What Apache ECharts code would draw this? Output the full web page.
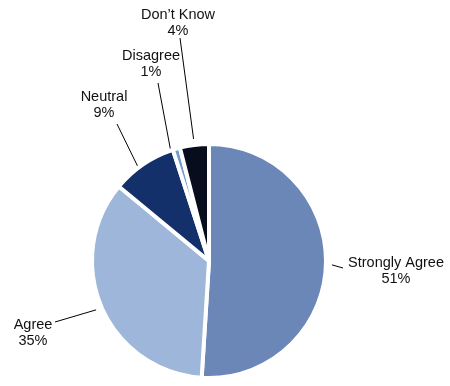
<!DOCTYPE html>
<html>
<head>
<meta charset="utf-8">
<script src="https://cdn.jsdelivr.net/npm/echarts@6/dist/echarts.min.js"></script>
<style>
html,body{margin:0;padding:0;background:#fff;}
#chart{width:450px;height:386px;}
</style>
</head>
<body>
<div id="chart"></div>
<script>
// Data
const categories = ["Strongly Agree", "Agree", "Neutral", "Disagree", "Don\u2019t Know"];
const values = [51, 35, 9, 1, 4];

// Styles (not data)
const colors = ["#6a87b8", "#9db6d9", "#13306a", "#6f9ad2", "#070d1c"];
// label block centres and leader-line end points (placement only)
const labelPlace = [
  { x: 396, y: 271, end: [343, 268] },
  { x: 33,  y: 333, end: [55, 322] },
  { x: 104, y: 105, end: [117, 124] },
  { x: 151, y: 64,  end: [158, 83] },
  { x: 178, y: 23,  end: [180, 38] }
];

const chart = echarts.init(document.getElementById('chart'), null, { renderer: 'canvas' });
chart.setOption({
  animation: false,
  backgroundColor: '#ffffff',
  series: [{
    type: 'pie',
    center: [209, 261],
    radius: 117,
    startAngle: 90,
    clockwise: true,
    data: categories.map((c, i) => ({ name: c, value: values[i], itemStyle: { color: colors[i] } })),
    itemStyle: { borderColor: '#ffffff', borderWidth: 4 },
    label: {
      show: true,
      formatter: p => p.name + '\n' + p.value + '%',
      fontFamily: 'Liberation Sans, Arial, sans-serif',
      fontSize: 14.5,
      lineHeight: 16,
      color: '#111',
      align: 'center',
      overflow: 'none',
      width: 140
    },
    labelLine: { show: true, length: 10, length2: 10, lineStyle: { color: '#000', width: 1 } },
    labelLayout: function (params) {
      const lp = labelPlace[params.dataIndex];
      const pts = params.labelLinePoints;
      let start = pts ? pts[0] : lp.end;
      if (pts) {
        const dx = pts[1][0] - pts[0][0], dy = pts[1][1] - pts[0][1];
        const len = Math.sqrt(dx * dx + dy * dy) || 1;
        start = [pts[0][0] + dx / len * 6, pts[0][1] + dy / len * 6];
      }
      return {
        x: lp.x,
        y: lp.y,
        align: 'center',
        verticalAlign: 'middle',
        labelLinePoints: [start, lp.end, lp.end]
      };
    }
  }]
});
</script>
</body>
</html>
